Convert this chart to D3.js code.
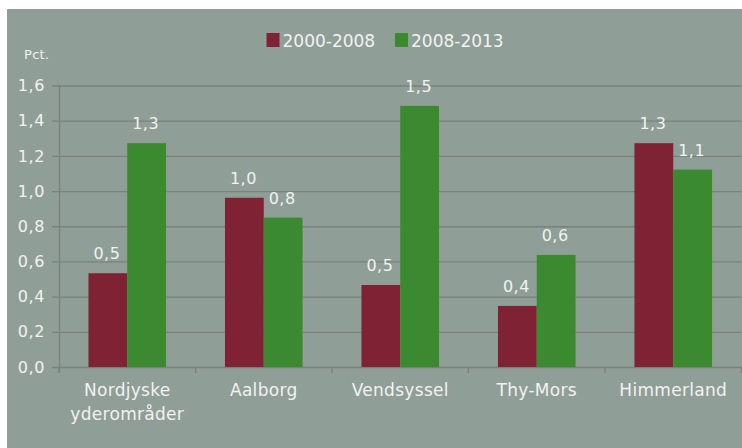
<!DOCTYPE html>
<meta charset="utf-8">
<style>
body { margin: 0; background: #fff; }
text { font-family: "DejaVu Sans", Verdana, sans-serif; fill: #f2f2f2; }
</style>
<body>
<script src="https://d3js.org/d3.v7.min.js"></script>
<script>

var width = 742,
    height = 448;

// data
var categories = ["Nordjyske\nyderområder", "Aalborg", "Vendsyssel", "Thy-Mors", "Himmerland"];
var series = ["2000-2008", "2008-2013"];
var values0008 = [0.533, 0.962, 0.466, 0.347, 1.272];
var values0813 = [1.272, 0.849, 1.484, 0.637, 1.122];
var labels0008 = ["0,5", "1,0", "0,5", "0,4", "1,3"];
var labels0813 = ["1,3", "0,8", "1,5", "0,6", "1,1"];
var yTicks = [0, 0.2, 0.4, 0.6, 0.8, 1.0, 1.2, 1.4, 1.6];

var colors = ["#7f2334", "#3c8a2f"];

var svg = d3.select("body").append("svg")
    .attr("width", width)
    .attr("height", height);

svg.append("rect")
    .attr("x", 7).attr("y", 9)
    .attr("width", width - 7).attr("height", height - 9)
    .attr("fill", "#8f9e96");

var x0 = d3.scaleBand()
    .domain(categories)
    .range([59, 741.5]);

var x1 = d3.scaleBand()
    .domain(series)
    .range([0, x0.bandwidth()])
    .paddingOuter(0.76);

var y = d3.scaleLinear()
    .domain([0, 1.6])
    .range([367, 85.5]);

var comma = d3.formatLocale({decimal: ",", thousands: ".", grouping: [3], currency: ["", ""]}).format(".1f");

// gridlines + left ticks
var yAxis = d3.axisLeft(y)
    .tickValues(yTicks)
    .tickSize(-(741.5 - 59))
    .tickSizeOuter(0)
    .tickPadding(14)
    .tickFormat(comma);

var gy = svg.append("g")
    .attr("transform", "translate(59,0)")
    .call(yAxis);
gy.select(".domain").remove();
gy.selectAll(".tick line")
    .attr("x1", -7)
    .attr("stroke", "#7b807d")
    .attr("stroke-width", 1.3);
gy.selectAll(".tick text")
    .attr("font-size", 16)
    .attr("letter-spacing", 0.6)
    .attr("fill", "#f2f2f2")
    .attr("font-family", "DejaVu Sans");

svg.append("line")
    .attr("x1", 59.5).attr("x2", 59.5)
    .attr("y1", y(1.6)).attr("y2", y(0) + 5)
    .attr("stroke", "#7b807d")
    .attr("stroke-width", 1.3);

// category separators below the axis
svg.append("g").selectAll("line")
    .data(d3.range(categories.length + 1))
  .enter().append("line")
    .attr("x1", function(i) { return 59 + i * x0.step(); })
    .attr("x2", function(i) { return 59 + i * x0.step(); })
    .attr("y1", y(0))
    .attr("y2", y(0) + 6)
    .attr("stroke", "#7b807d")
    .attr("stroke-width", 1.3);

svg.append("text")
    .attr("x", 24).attr("y", 59)
    .attr("font-size", 13)
    .attr("letter-spacing", 0.3)
    .text("Pct.");

var rows = categories.map(function(c, i) {
  return {cat: c, vals: [
    {s: series[0], v: values0008[i], l: labels0008[i], c: colors[0]},
    {s: series[1], v: values0813[i], l: labels0813[i], c: colors[1]}
  ]};
});

var groups = svg.append("g").selectAll("g")
    .data(rows)
  .enter().append("g")
    .attr("transform", function(d) { return "translate(" + x0(d.cat) + ",0)"; });

groups.selectAll("rect")
    .data(function(d) { return d.vals; })
  .enter().append("rect")
    .attr("x", function(d) { return x1(d.s); })
    .attr("width", x1.bandwidth())
    .attr("y", function(d) { return y(d.v); })
    .attr("height", function(d) { return y(0) - y(d.v); })
    .attr("fill", function(d) { return d.c; });

groups.selectAll("text")
    .data(function(d) { return d.vals; })
  .enter().append("text")
    .attr("x", function(d) { return x1(d.s) + x1.bandwidth() / 2 - 1; })
    .attr("y", function(d) { return y(d.v) - 14; })
    .attr("text-anchor", "middle")
    .attr("font-size", 16)
    .attr("letter-spacing", 0.5)
    .text(function(d) { return d.l; });

// category labels
var cl = svg.append("g").selectAll("text")
    .data(categories)
  .enter().append("text")
    .attr("text-anchor", "middle")
    .attr("font-size", 17)
    .attr("letter-spacing", 0.3)
    .attr("y", 396);
cl.selectAll("tspan")
    .data(function(d) { return d.split("\n"); })
  .enter().append("tspan")
    .attr("x", function() { var c = this.parentNode.__data__; return x0(c) + x0.bandwidth() / 2; })
    .attr("dy", function(d, i) { return i ? 23.5 : 0; })
    .text(function(d) { return d; });

// legend
var legendX = [266.5, 395];
var legend = svg.append("g").selectAll("g")
    .data(series)
  .enter().append("g")
    .attr("transform", function(d, i) { return "translate(" + legendX[i] + ",33)"; });
legend.append("rect")
    .attr("width", 13).attr("height", 14)
    .attr("fill", function(d, i) { return colors[i]; });
legend.append("text")
    .attr("x", 16).attr("y", 13.5)
    .attr("font-size", 17)
    .text(function(d) { return d; });

</script>
